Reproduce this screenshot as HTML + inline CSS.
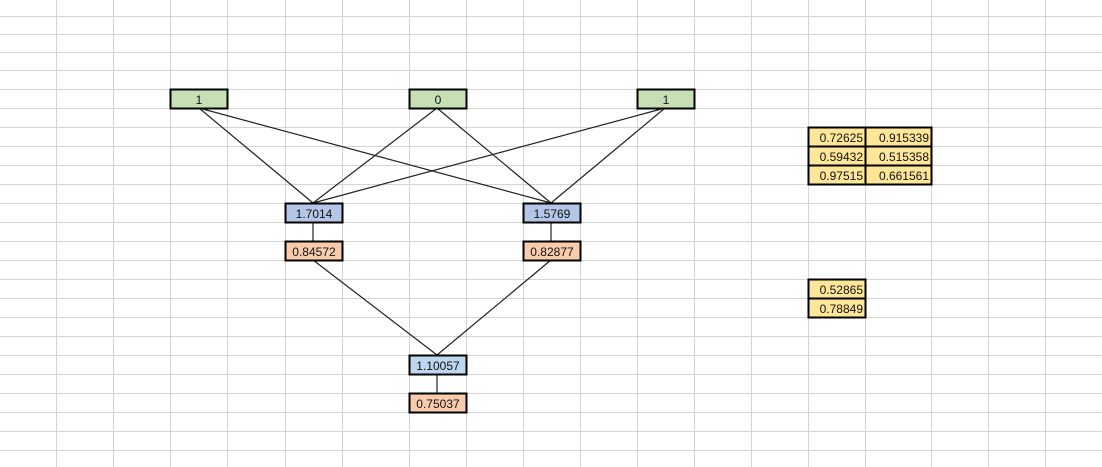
<!DOCTYPE html>
<html><head><meta charset="utf-8"><style>
html,body{margin:0;padding:0;background:#fff;}
svg{display:block;}
text{font-family:"Liberation Sans",sans-serif;font-size:12px;fill:#111;}
</style></head><body>
<svg width="1102" height="467" xmlns="http://www.w3.org/2000/svg">
<g stroke="#d4d4d4" stroke-width="1">
<line x1="56.5" y1="0" x2="56.5" y2="467"/><line x1="113.5" y1="0" x2="113.5" y2="467"/><line x1="170.5" y1="0" x2="170.5" y2="467"/><line x1="227.5" y1="0" x2="227.5" y2="467"/><line x1="285.5" y1="0" x2="285.5" y2="467"/><line x1="342.5" y1="0" x2="342.5" y2="467"/><line x1="409.5" y1="0" x2="409.5" y2="467"/><line x1="466.5" y1="0" x2="466.5" y2="467"/><line x1="523.5" y1="0" x2="523.5" y2="467"/><line x1="580.5" y1="0" x2="580.5" y2="467"/><line x1="637.5" y1="0" x2="637.5" y2="467"/><line x1="694.5" y1="0" x2="694.5" y2="467"/><line x1="751.5" y1="0" x2="751.5" y2="467"/><line x1="808.5" y1="0" x2="808.5" y2="467"/><line x1="865.5" y1="0" x2="865.5" y2="467"/><line x1="931.5" y1="0" x2="931.5" y2="467"/><line x1="988.5" y1="0" x2="988.5" y2="467"/><line x1="1045.5" y1="0" x2="1045.5" y2="467"/>
<line x1="0" y1="16.5" x2="1102" y2="16.5"/><line x1="0" y1="34.5" x2="1102" y2="34.5"/><line x1="0" y1="52.5" x2="1102" y2="52.5"/><line x1="0" y1="70.5" x2="1102" y2="70.5"/><line x1="0" y1="89.5" x2="1102" y2="89.5"/><line x1="0" y1="108.5" x2="1102" y2="108.5"/><line x1="0" y1="127.5" x2="1102" y2="127.5"/><line x1="0" y1="146.5" x2="1102" y2="146.5"/><line x1="0" y1="165.5" x2="1102" y2="165.5"/><line x1="0" y1="184.5" x2="1102" y2="184.5"/><line x1="0" y1="203.5" x2="1102" y2="203.5"/><line x1="0" y1="222.5" x2="1102" y2="222.5"/><line x1="0" y1="241.5" x2="1102" y2="241.5"/><line x1="0" y1="260.5" x2="1102" y2="260.5"/><line x1="0" y1="279.5" x2="1102" y2="279.5"/><line x1="0" y1="298.5" x2="1102" y2="298.5"/><line x1="0" y1="317.5" x2="1102" y2="317.5"/><line x1="0" y1="336.5" x2="1102" y2="336.5"/><line x1="0" y1="355.5" x2="1102" y2="355.5"/><line x1="0" y1="374.5" x2="1102" y2="374.5"/><line x1="0" y1="393.5" x2="1102" y2="393.5"/><line x1="0" y1="412.5" x2="1102" y2="412.5"/><line x1="0" y1="431.5" x2="1102" y2="431.5"/><line x1="0" y1="450.5" x2="1102" y2="450.5"/>
</g>
<g stroke="#222" stroke-width="1.2">
<line x1="199" y1="108" x2="313" y2="203"/><line x1="199" y1="108" x2="551" y2="203"/>
<line x1="437" y1="108" x2="313" y2="203"/><line x1="437" y1="108" x2="551" y2="203"/>
<line x1="665" y1="108" x2="313" y2="203"/><line x1="665" y1="108" x2="551" y2="203"/>
<line x1="313" y1="222" x2="313" y2="241"/><line x1="551" y1="222" x2="551" y2="241"/>
<line x1="313" y1="260" x2="437" y2="355"/><line x1="551" y1="260" x2="437" y2="355"/>
<line x1="437" y1="374" x2="437" y2="393"/>
</g>
<g stroke="#000" stroke-width="2">
<rect x="170.5" y="89.5" width="57" height="19" fill="#c6e0b4"/>
<rect x="409.5" y="89.5" width="57" height="19" fill="#c6e0b4"/>
<rect x="637.5" y="89.5" width="57" height="19" fill="#c6e0b4"/>
<rect x="285.5" y="203.5" width="57" height="19" fill="#b4c6e7"/>
<rect x="523.5" y="203.5" width="57" height="19" fill="#b4c6e7"/>
<rect x="285.5" y="241.5" width="57" height="19" fill="#f8cbad"/>
<rect x="523.5" y="241.5" width="57" height="19" fill="#f8cbad"/>
<rect x="409.5" y="355.5" width="57" height="19" fill="#bdd7ee"/>
<rect x="409.5" y="393.5" width="57" height="19" fill="#f8cbad"/>
<rect x="808.5" y="127.5" width="57" height="19" fill="#ffe699"/>
<rect x="865.5" y="127.5" width="66" height="19" fill="#ffe699"/>
<rect x="808.5" y="146.5" width="57" height="19" fill="#ffe699"/>
<rect x="865.5" y="146.5" width="66" height="19" fill="#ffe699"/>
<rect x="808.5" y="165.5" width="57" height="19" fill="#ffe699"/>
<rect x="865.5" y="165.5" width="66" height="19" fill="#ffe699"/>
<rect x="808.5" y="279.5" width="57" height="19" fill="#ffe699"/>
<rect x="808.5" y="298.5" width="57" height="19" fill="#ffe699"/>
</g>
<g text-anchor="middle">
<text x="199" y="104">1</text><text x="438" y="104">0</text><text x="666" y="104">1</text>
<text x="314" y="218">1.7014</text><text x="552" y="218">1.5769</text>
<text x="314" y="256">0.84572</text><text x="552" y="256">0.82877</text>
<text x="438" y="370">1.10057</text><text x="438" y="408">0.75037</text>
</g>
<g text-anchor="end">
<text x="863" y="142">0.72625</text><text x="929" y="142">0.915339</text>
<text x="863" y="161">0.59432</text><text x="929" y="161">0.515358</text>
<text x="863" y="180">0.97515</text><text x="929" y="180">0.661561</text>
<text x="863" y="294">0.52865</text><text x="863" y="313">0.78849</text>
</g>
</svg>
</body></html>
